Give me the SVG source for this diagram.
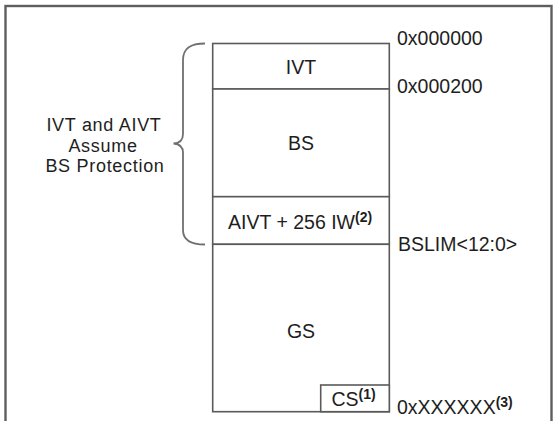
<svg xmlns="http://www.w3.org/2000/svg" width="554" height="421" viewBox="0 0 554 421">
<style>
.frame{fill:none;stroke:#5e5e5e;stroke-width:2.4}
.box{fill:#fff;stroke:#5a5a5a;stroke-width:1.6}
.br{fill:none;stroke:#707070;stroke-width:1.8}
text{font-family:"Liberation Sans",Arial,sans-serif;font-size:19.5px;fill:#1e1e1e}
.c{text-anchor:middle}
.note{font-size:18px;letter-spacing:0.7px}
.sup{font-size:14px;font-weight:bold}
</style>
<rect id="frame" class="frame" x="5.5" y="6" width="546" height="430"/>
<g id="memory-map">
  <g id="ivt"><rect class="box" x="212.7" y="43.5" width="176.6" height="45.5"/><text class="c" x="301" y="74">IVT</text></g>
  <g id="bs"><rect class="box" x="212.7" y="89" width="176.6" height="107.7"/><text class="c" x="301" y="150">BS</text></g>
  <g id="aivt"><rect class="box" x="212.7" y="196.7" width="176.6" height="47.6"/><text x="228" y="228.5">AIVT + 256 IW<tspan class="sup" dy="-7">(2)</tspan></text></g>
  <g id="gs"><rect class="box" x="212.7" y="244.3" width="176.6" height="167.4"/><text class="c" x="301" y="338">GS</text></g>
  <g id="cs"><rect class="box" x="320.7" y="385" width="68.6" height="26.7"/><text x="331.5" y="406">CS<tspan class="sup" dy="-7">(1)</tspan></text></g>
</g>
<g id="connectors">
  <path id="brace" class="br" d="M205,43.5 C192,43.5 183,47 183,60 L183,134 Q183,143 173.5,143.5 Q183,144 183,153 L183,230 C183,241 192,244.5 205,244.5"/>
</g>
<g id="addresses">
  <text x="397" y="45">0x000000</text>
  <text x="397" y="93">0x000200</text>
  <text x="398" y="250.5">BSLIM&lt;12:0&gt;</text>
  <text x="397" y="414">0xXXXXXX<tspan class="sup" dy="-7">(3)</tspan></text>
</g>
<g id="note">
  <text class="c note" x="104" y="131">IVT and AIVT</text>
  <text class="c note" x="103" y="151.5">Assume</text>
  <text class="c note" x="105" y="172">BS Protection</text>
</g>
</svg>
